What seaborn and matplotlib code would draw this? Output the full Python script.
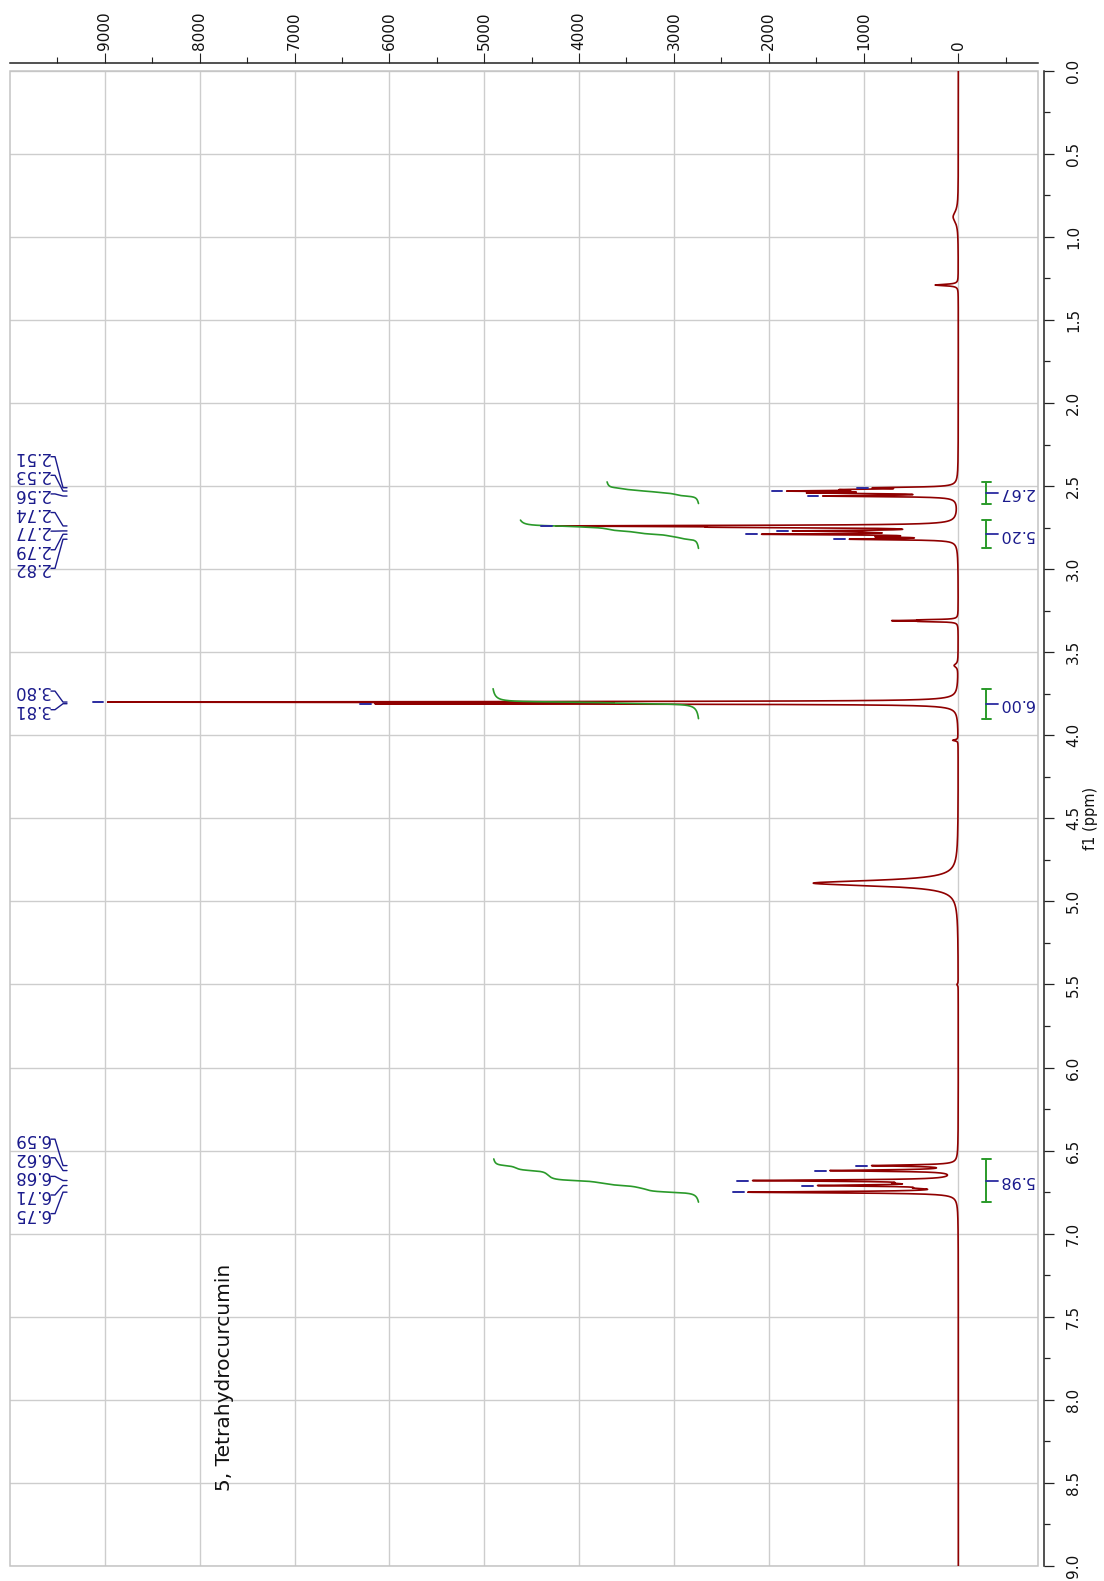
import numpy as np
import pandas as pd
import matplotlib
matplotlib.use("Agg")
import matplotlib.pyplot as plt
import matplotlib.transforms as mtransforms
from matplotlib.patches import Rectangle
from matplotlib.ticker import FixedLocator, FuncFormatter
import seaborn as sns

# ---------------------------------------------------------------- data
# Resonances: centre (ppm), observed peak intensity, half width (ppm)
line_ppm = [0.88, 1.29,
            2.510, 2.521, 2.530, 2.541, 2.560,
            2.740, 2.748, 2.770, 2.778, 2.790, 2.805, 2.820,
            3.305, 3.310, 3.315, 3.58, 3.800, 3.810, 4.03, 4.89, 5.50,
            6.590, 6.620, 6.680, 6.695, 6.710, 6.725, 6.750]
line_top = [55, 244,
            905, 1250, 1810, 1600, 1430,
            4240, 2600, 1750, 960, 2075, 880, 1150,
            420, 703, 420, 45, 8970, 6150, 60, 1530, 15,
            915, 1355, 2170, 700, 1485, 480, 2220]
line_hw = [0.04, 0.005,
           0.004, 0.004, 0.004, 0.004, 0.004,
           0.004, 0.004, 0.004, 0.004, 0.004, 0.004, 0.004,
           0.0025, 0.0025, 0.0025, 0.012, 0.003, 0.003, 0.004, 0.02, 0.006,
           0.005, 0.005, 0.005, 0.005, 0.005, 0.005, 0.005]

# Picked peaks, grouped as printed in the margin
peak_groups = [["2.51", "2.53", "2.56", "2.74", "2.77", "2.79", "2.82"],
               ["3.80", "3.81"],
               ["6.59", "6.62", "6.68", "6.71", "6.75"]]

# Integration regions (ppm) and their relative values
integ_from = [2.475, 2.705, 3.720, 6.550]
integ_to = [2.605, 2.875, 3.900, 6.810]
integ_value = [2.67, 5.20, 6.00, 5.98]

title_text = "5, Tetrahydrocurcumin"
x_major = list(range(0, 9001, 1000))
x_minor = list(range(-500, 9501, 1000))
y_major = [i * 0.5 for i in range(19)]
y_minor = [0.25 + i * 0.5 for i in range(18)]

# ---------------------------------------------------------------- spectrum
ppm = np.linspace(0.0, 9.0, 45001)
c = np.array(line_ppm)
w = np.array(line_hw)
top = np.array(line_top, dtype=float)


def lorentz(x, x0, g):
    return g ** 2 / ((x - x0) ** 2 + g ** 2)


# amplitudes such that the summed spectrum reaches the observed peak heights
M = lorentz(c[:, None], c[None, :], w[None, :])
amp = np.linalg.solve(M, top)
spec = (amp[None, :] * lorentz(ppm[:, None], c[None, :], w[None, :])).sum(axis=1)
spec_df = pd.DataFrame({"ppm": ppm, "intensity": spec})

# ---------------------------------------------------------------- figure
sns.set_theme(style="white")
plt.rcParams["font.family"] = ["DejaVu Sans"]

W, H = 1104, 1581
fig = plt.figure(figsize=(W / 100, H / 100), dpi=100)
ax_l, ax_r, ax_t, ax_b = 10, 1038, 70.7, 1566
ax = fig.add_axes([ax_l / W, (H - ax_b) / H, (ax_r - ax_l) / W, (ax_b - ax_t) / H])


def fx(px):
    """horizontal pixel position -> axes fraction"""
    return (px - ax_l) / (ax_r - ax_l)


red = "#8f0000"
green = "#2a9a2a"
navy = "#1a1a8c"
blue = "#2b2ba0"

sns.lineplot(data=spec_df, x="intensity", y="ppm", orient="y", estimator=None,
             sort=False, color=red, lw=1.2, ax=ax, zorder=3)

# integral curves
base_level = 2740
per_unit = 361
for a, b, v in zip(integ_from, integ_to, integ_value):
    m = (ppm >= a) & (ppm <= b)
    p = ppm[m]
    s = spec[m]
    cum = np.cumsum(s[::-1])[::-1]
    frac = cum / cum[0]
    idf = pd.DataFrame({"ppm": p, "integral": base_level + v * per_unit * frac})
    sns.lineplot(data=idf, x="integral", y="ppm", orient="y", estimator=None,
                 sort=False, color=green, lw=1.2, ax=ax, zorder=4)

ax.set_xlim(10000, -840)
ax.set_ylim(9.0, 0.0)

# axes styling
ax.xaxis.set_ticks_position("top")
ax.xaxis.set_major_locator(FixedLocator(x_major))
ax.xaxis.set_minor_locator(FixedLocator(x_minor))
ax.xaxis.set_major_formatter(FuncFormatter(lambda v, _: f"{v:.0f}"))
ax.yaxis.set_ticks_position("right")
ax.yaxis.set_label_position("right")
ax.yaxis.set_major_locator(FixedLocator(y_major))
ax.yaxis.set_minor_locator(FixedLocator(y_minor))
ax.yaxis.set_major_formatter(FuncFormatter(lambda v, _: f"{v:.1f}"))

ax.tick_params(axis="x", which="major", direction="out", length=7.5, width=0.8,
               color="#222222", labelsize=11, labelrotation=90, pad=2,
               labelcolor="#111111")
ax.tick_params(axis="x", which="minor", direction="out", length=4, width=0.8,
               color="#222222")
ax.tick_params(axis="y", which="major", direction="out", length=7.5, width=0.9,
               color="#222222", labelsize=11, labelrotation=90, pad=8.5,
               labelcolor="#111111")
ax.tick_params(axis="y", which="minor", direction="out", length=4.5, width=0.9,
               color="#222222")

ax.set_xlabel("")
ax.set_ylabel("f1 (ppm)", fontsize=10.5, rotation=90, labelpad=1, color="#111111")

for side in ("left", "bottom"):
    ax.spines[side].set_visible(False)
ax.spines["top"].set_position(("outward", 5.3))
ax.spines["right"].set_position(("outward", 4.3))
for side in ("top", "right"):
    ax.spines[side].set_color("#222222")
    ax.spines[side].set_linewidth(1.1)

ax.grid(True, which="major", color="#cdcdcd", lw=1.0)
ax.set_axisbelow(True)
ax.add_patch(Rectangle((0, 0), 1, 1, transform=ax.transAxes, fill=False,
                       ec="#c4c4c4", lw=1.1, zorder=0.6, clip_on=False))

blend = mtransforms.blended_transform_factory(ax.transAxes, ax.transData)

# picked peaks: margin labels with connectors and tip markers
label_step = 0.112
for group in peak_groups:
    vals = np.array([float(t) for t in group])
    centre = vals.mean() - 0.015
    n = len(vals)
    lab_y = centre + (np.arange(n) - (n - 1) / 2) * label_step
    for txt, pk, ly in zip(group, vals, lab_y):
        ax.text(fx(50), ly, txt, transform=blend, rotation=180, ha="right",
                va="center", fontsize=12, color=navy, zorder=6)
        ax.plot([fx(51), fx(55), fx(63), fx(67)], [ly, ly, pk, pk],
                transform=blend, color=navy, lw=1.0, zorder=6, clip_on=False)
        h = np.interp(pk, ppm, spec)
        ax.plot([h + 45, h + 160], [pk, pk], color=blue, lw=1.4, zorder=5)

# integration brackets and values
for a, b, v in zip(integ_from, integ_to, integ_value):
    mid = (a + b) / 2
    ax.plot([fx(986), fx(986)], [a, b], transform=blend, color=green, lw=1.4, zorder=6)
    for e in (a, b):
        ax.plot([fx(982), fx(991)], [e, e], transform=blend, color=green, lw=1.4, zorder=6)
    ax.plot([fx(986), fx(998)], [mid, mid], transform=blend, color=blue, lw=1.3, zorder=6)
    ax.text(fx(998), mid, f"{v:.2f}", transform=blend, rotation=180, ha="left",
            va="center", fontsize=11.5, color=navy, zorder=6)

ax.text(fx(225), (ax_b - 1377) / (ax_b - ax_t), title_text, transform=ax.transAxes,
        rotation=90, ha="center", va="center", fontsize=14.5, color="#111111")

# centre the rotated ppm labels on their ticks
fig.canvas.draw()
for tick in ax.yaxis.get_major_ticks():
    tick.label2.set_verticalalignment("center")
    tick.label1.set_verticalalignment("center")

fig.savefig("out.png", dpi=100)
